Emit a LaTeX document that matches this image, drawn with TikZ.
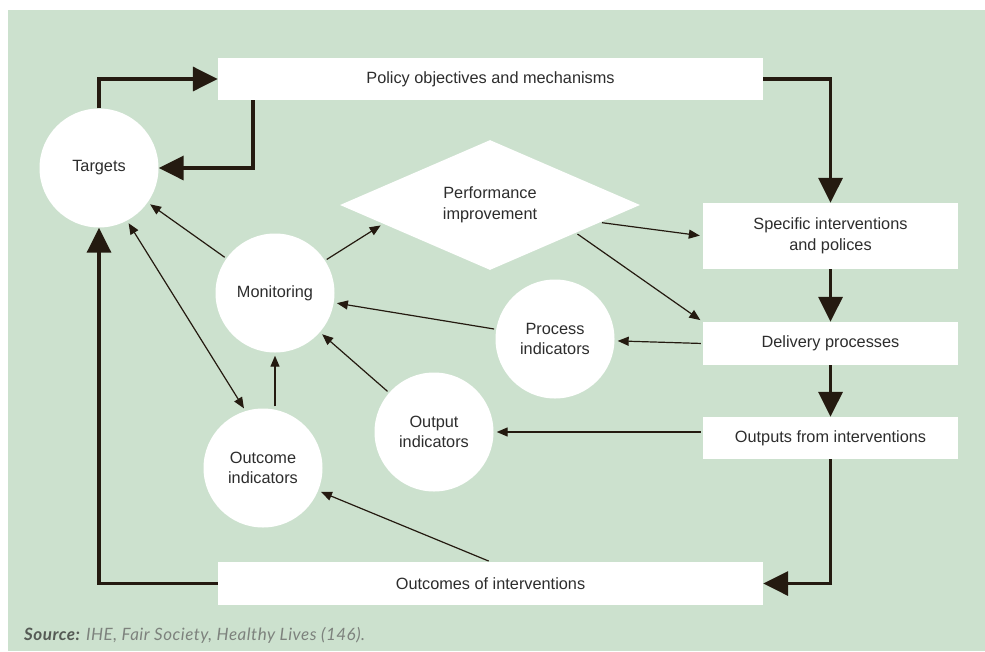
\documentclass[tikz,border=0pt]{standalone}
\usepackage{fontspec}
\setmainfont{Liberation Sans}
\newfontfamily\srcfont[LetterSpace=3]{Lato}
\usetikzlibrary{arrows.meta,shapes.geometric}
\definecolor{bggreen}{RGB}{204,225,206}
\definecolor{arrowc}{RGB}{36,26,16}
\definecolor{txtc}{RGB}{45,45,45}
\definecolor{srcgray}{RGB}{125,130,125}
\definecolor{srcdark}{RGB}{85,90,85}
\begin{document}
\begin{tikzpicture}[x=1pt,y=-1pt,
  box/.style={rectangle, fill=white, inner sep=0pt, text=txtc, align=center,
    font=\fontsize{16.3}{20.5}\selectfont},
  circ/.style={circle, fill=white, minimum size=119pt, inner sep=0pt, text=txtc, align=center,
    font=\fontsize{16.3}{20.5}\selectfont},
  thickarr/.style={draw=arrowc, line width=3.5pt, -{Triangle[length=25pt,width=24pt]}},
  thinarr/.style={draw=arrowc, line width=1.2pt, -{Triangle[length=11pt,width=9pt]},
    shorten <=2pt, shorten >=3pt},
  dblarr/.style={thinarr, {Triangle[length=11pt,width=9pt]}-{Triangle[length=11pt,width=9pt]}, shorten <=3pt}
]
\useasboundingbox (0,0) rectangle (985,651);
\fill[white] (0,0) rectangle (985,651);
\fill[bggreen] (8,10) rectangle (985,651);

% boxes
\node[box, minimum width=545pt, minimum height=42pt] (policy) at (490.5,79) {Policy objectives and mechanisms};
\node[box, minimum width=255pt, minimum height=66pt] (specific) at (830.5,236) {Specific interventions\\and polices};
\node[box, minimum width=255pt, minimum height=43pt] (delivery) at (830.5,343.5) {Delivery processes};
\node[box, minimum width=255pt, minimum height=42pt] (outputs) at (830.5,438) {Outputs from interventions};
\node[box, minimum width=545pt, minimum height=43pt] (outcomes) at (490.5,583.5) {Outcomes of interventions};

% diamond
\node[diamond, fill=white, inner sep=0pt, minimum width=300pt, minimum height=125pt,
  text=txtc, align=center, font=\fontsize{16.3}{20.5}\selectfont] (perf) at (490,205) {Performance\\improvement};

% circles
\node[circ] (targets) at (99,168) {Targets};
\node[circ] (monitoring) at (275,293) {Monitoring};
\node[circ] (process) at (555,339) {Process\\indicators};
\node[circ] (outputind) at (434,432) {Output\\indicators};
\node[circ] (outcomeind) at (263,468) {Outcome\\indicators};

% thick arrows
\draw[thickarr] (targets.north) |- (policy.west);
\draw[thickarr] ([xshift=35pt]policy.south west) |- (targets.east);
\draw[thickarr] (policy.east) -| (specific.north);
\draw[thickarr] (specific.south) -- (delivery.north);
\draw[thickarr] (delivery.south) -- (outputs.north);
\draw[thickarr] (outputs.south) |- (outcomes.east);
\draw[thickarr] (outcomes.west) -| (targets.south);

% thin arrows
\draw[thinarr] (monitoring) -- (targets);
\draw[dblarr] (targets.-62) -- (outcomeind.107);
\draw[thinarr] (monitoring.south |- outcomeind.north) -- (monitoring.south);
\draw[thinarr] (outputind) -- (monitoring);
\draw[thinarr] (process) -- (monitoring);
\draw[thinarr] (monitoring.33) -- (perf.190);
\draw[thinarr] (perf.-9) -- (specific.west);
\draw[thinarr] (perf.-18) -- (delivery.north west);
\draw[thinarr] (delivery.west) -- (process);
\draw[thinarr] (outputs.west |- outputind.east) -- (outputind.east);
\draw[thinarr] (outcomes.north) -- (outcomeind);

% source
\node[anchor=base west, inner sep=0pt, text=srcgray, font=\srcfont\itshape\fontsize{17}{20}\selectfont] (src) at (24,640)
  {{\bfseries\color{srcdark}Source:} IHE, Fair Society, Healthy Lives (146).};
\end{tikzpicture}
\end{document}
